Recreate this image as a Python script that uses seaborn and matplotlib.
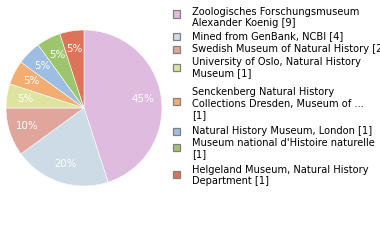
import matplotlib
matplotlib.use("Agg")
import matplotlib.pyplot as plt
import seaborn as sns
from matplotlib.patches import Rectangle

sns.set_style("white")
plt.rcParams['font.family'] = ['DejaVu Sans']

labels = [
    "Zoologisches Forschungsmuseum\nAlexander Koenig [9]",
    "Mined from GenBank, NCBI [4]",
    "Swedish Museum of Natural History [2]",
    "University of Oslo, Natural History\nMuseum [1]",
    "Senckenberg Natural History\nCollections Dresden, Museum of ...\n[1]",
    "Natural History Museum, London [1]",
    "Museum national d'Histoire naturelle\n[1]",
    "Helgeland Museum, Natural History\nDepartment [1]",
]
values = [9, 4, 2, 1, 1, 1, 1, 1]
colors = ["#dfbcdf", "#cddbe7", "#e0a69c", "#dfe3a0", "#f2ae72", "#9ebde2", "#9dc56e", "#dd7359"]
palette = sns.color_palette(colors)

W, H = 380, 240
fig = plt.figure(figsize=(3.8, 2.4), dpi=100)
fig.patch.set_facecolor("white")

cx, cy, r = 84, 108, 78
ax = fig.add_axes([(cx - r) / W, (H - cy - r) / H, 2 * r / W, 2 * r / H])
wedges, texts, autotexts = ax.pie(
    values, colors=palette, startangle=90, counterclock=False,
    autopct=lambda p: f"{p:.0f}%", pctdistance=0.76,
    wedgeprops=dict(linewidth=0.4, edgecolor="white"),
    textprops=dict(color="white", fontsize=7.4),
)
ax.set_xlim(-1, 1)
ax.set_ylim(-1, 1)
ax.set_aspect("equal")
ax.axis("off")

# legend layout (pixel positions)
text_y = [11.7, 36, 49, 62, 92, 131, 143, 170]
square_y = [14, 36, 49, 67, 101, 131, 147, 174]
line_h = 11.5
for lab, col, ty, sy in zip(labels, palette, text_y, square_y):
    fig.patches.append(Rectangle((173 / W, 1 - (sy + 3.5) / H), 7 / W, 7 / H,
                                 transform=fig.transFigure, facecolor=col,
                                 edgecolor="#808080", linewidth=0.9))
    for i, line in enumerate(lab.split("\n")):
        fig.text(192 / W, 1 - (ty + i * line_h) / H, line, fontsize=7.1,
                 va="center", ha="left", color="#000000")

fig.savefig("out.png", dpi=100, facecolor="white")
